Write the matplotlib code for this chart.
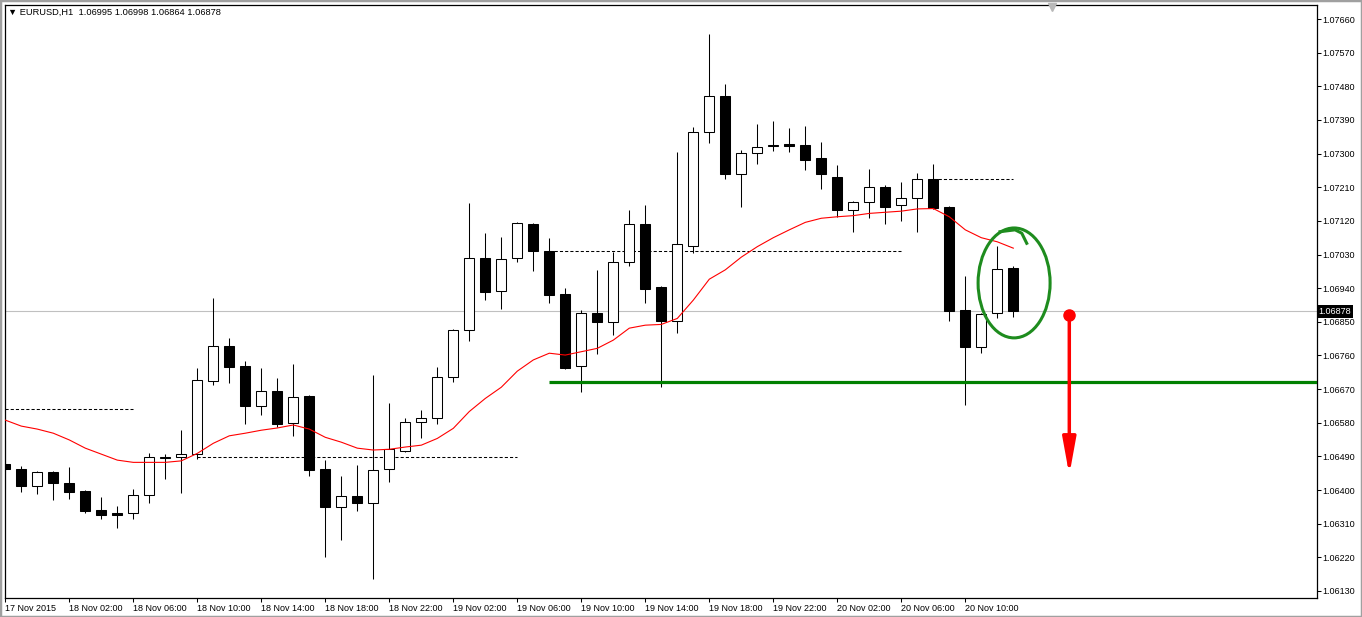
import matplotlib
matplotlib.use("Agg")
import matplotlib.pyplot as plt
import matplotlib.transforms as mtransforms
from matplotlib.patches import Ellipse, Rectangle
import numpy as np

plt.rcParams["font.family"] = ["Liberation Sans", "DejaVu Sans"]

# EURUSD H1 candles, 17 Nov 22:00 .. 20 Nov 11:00
opens = [1.06470, 1.06456, 1.06411, 1.06448, 1.06419, 1.06397, 1.06347, 1.06339, 1.06339, 1.06387,
         1.06486, 1.06488, 1.06496, 1.06692, 1.06785, 1.06732, 1.06625, 1.06665, 1.06579, 1.06652,
         1.06456, 1.06355, 1.06384, 1.06365, 1.06456, 1.06504, 1.06582, 1.06593, 1.06702, 1.06828,
         1.07021, 1.06932, 1.07021, 1.07112, 1.07039, 1.06924, 1.06732, 1.06874, 1.06850, 1.07010,
         1.07112, 1.06943, 1.06852, 1.07053, 1.07358, 1.07454, 1.07245, 1.07302, 1.07321, 1.07326,
         1.07323, 1.07288, 1.07237, 1.07149, 1.07171, 1.07211, 1.07162, 1.07181, 1.07232, 1.07157,
         1.06882, 1.06783, 1.06874, 1.06995]
highs = [1.06534, 1.06464, 1.06451, 1.06451, 1.06462, 1.06400, 1.06381, 1.06357, 1.06403, 1.06499,
         1.06496, 1.06561, 1.06726, 1.06914, 1.06807, 1.06745, 1.06726, 1.06700, 1.06737, 1.06654,
         1.06480, 1.06438, 1.06467, 1.06708, 1.06633, 1.06593, 1.06614, 1.06729, 1.06830, 1.07168,
         1.07088, 1.07077, 1.07117, 1.07114, 1.07074, 1.06940, 1.06882, 1.06989, 1.07037, 1.07149,
         1.07162, 1.06946, 1.07304, 1.07371, 1.07620, 1.07486, 1.07310, 1.07379, 1.07387, 1.07368,
         1.07374, 1.07331, 1.07269, 1.07173, 1.07259, 1.07216, 1.07224, 1.07248, 1.07272, 1.07159,
         1.06973, 1.06873, 1.07053, 1.06998]
lows = [1.06403, 1.06395, 1.06389, 1.06373, 1.06376, 1.06339, 1.06323, 1.06298, 1.06323, 1.06365,
        1.06430, 1.06392, 1.06483, 1.06681, 1.06686, 1.06577, 1.06601, 1.06569, 1.06545, 1.06438,
        1.06221, 1.06266, 1.06344, 1.06162, 1.06422, 1.06502, 1.06539, 1.06577, 1.06689, 1.06799,
        1.06908, 1.06884, 1.07010, 1.06986, 1.06900, 1.06724, 1.06662, 1.06764, 1.06815, 1.06999,
        1.06900, 1.06676, 1.06820, 1.07034, 1.07328, 1.07232, 1.07157, 1.07272, 1.07307, 1.07304,
        1.07256, 1.07205, 1.07130, 1.07090, 1.07128, 1.07112, 1.07120, 1.07090, 1.07152, 1.06852,
        1.06628, 1.06767, 1.06860, 1.06864]
closes = [1.06456, 1.06411, 1.06448, 1.06419, 1.06395, 1.06344, 1.06333, 1.06333, 1.06387, 1.06488,
          1.06489, 1.06496, 1.06694, 1.06785, 1.06729, 1.06625, 1.06665, 1.06577, 1.06649, 1.06454,
          1.06355, 1.06384, 1.06365, 1.06454, 1.06510, 1.06582, 1.06593, 1.06702, 1.06828, 1.07021,
          1.06930, 1.07018, 1.07114, 1.07039, 1.06922, 1.06727, 1.06874, 1.06850, 1.07010, 1.07112,
          1.06938, 1.06852, 1.07058, 1.07358, 1.07454, 1.07245, 1.07302, 1.07318, 1.07324, 1.07320,
          1.07283, 1.07245, 1.07149, 1.07171, 1.07211, 1.07157, 1.07181, 1.07232, 1.07154, 1.06879,
          1.06783, 1.06871, 1.06991, 1.06878]
# red moving average
ma = [1.06587, 1.06571, 1.06563, 1.06552, 1.06534, 1.06512, 1.06496, 1.06480, 1.06474, 1.06474,
      1.06474, 1.06478, 1.06498, 1.06525, 1.06545, 1.06552, 1.06560, 1.06566, 1.06574, 1.06563,
      1.06541, 1.06528, 1.06512, 1.06507, 1.06509, 1.06515, 1.06520, 1.06538, 1.06565, 1.06610,
      1.06645, 1.06675, 1.06718, 1.06748, 1.06766, 1.06761, 1.06770, 1.06779, 1.06801, 1.06833,
      1.06841, 1.06843, 1.06859, 1.06908, 1.06964, 1.06989, 1.07023, 1.07051, 1.07075, 1.07096,
      1.07116, 1.07127, 1.07131, 1.07134, 1.07140, 1.07143, 1.07146, 1.07152, 1.07153, 1.07131,
      1.07096, 1.07075, 1.07064, 1.07047]

time_labels = ["17 Nov 2015", "18 Nov 02:00", "18 Nov 06:00", "18 Nov 10:00", "18 Nov 14:00",
               "18 Nov 18:00", "18 Nov 22:00", "19 Nov 02:00", "19 Nov 06:00", "19 Nov 10:00",
               "19 Nov 14:00", "19 Nov 18:00", "19 Nov 22:00", "20 Nov 02:00", "20 Nov 06:00",
               "20 Nov 10:00"]
price_ticks = [1.06130 + 0.0009 * k for k in range(18)]

# hand-drawn dotted levels: (first bar, last bar, price)
dotted_levels = [(0, 8, 1.06617), (12, 32, 1.06488), (34, 56, 1.07039), (58, 63, 1.07231)]
support_level = (34, 1.06688)
bid = 1.06878
arrow_x, arrow_top, arrow_bottom = 66.5, 1.06868, 1.06440

o = np.array(opens)
c = np.array(closes)
x = np.arange(len(opens))

fig = plt.figure(figsize=(13.62, 6.17), dpi=100)
fig.patch.set_facecolor("white")
ax = fig.add_axes([4.5 / 1362, 19.5 / 617, 1312 / 1362, 593 / 617])

ax.axhline(bid, color="#c0c0c0", lw=0.8, zorder=1)

for x0, x1, p in dotted_levels:
    ax.hlines(p, x0, x1, colors="black", linestyles=(0, (3, 2)), lw=0.75, zorder=2)

ax.vlines(x, lows, highs, color="black", lw=0.75, zorder=3)
body_colors = ["white" if cc >= oo else "black" for oo, cc in zip(o, c)]
ax.bar(x, np.abs(c - o), bottom=np.minimum(o, c), width=0.64, color=body_colors,
       edgecolor="black", linewidth=0.75, zorder=4)

ax.plot(x, ma, color="red", lw=0.8, zorder=5)

ax.hlines(support_level[1], support_level[0], 90, color="#008000", lw=2.3, zorder=6)

# red down arrow with dot
ax.annotate("", xy=(arrow_x, arrow_bottom), xytext=(arrow_x, arrow_top),
            arrowprops=dict(arrowstyle="-|>,head_length=2.2,head_width=0.4", color="red",
                            lw=2.5, mutation_scale=10, shrinkA=0, shrinkB=0), zorder=7)
ax.plot([arrow_x], [arrow_top], "o", color="red", ms=8, zorder=8)

# hand-drawn green circle around the last two candles
ax.add_patch(Ellipse((63.05, 1.06954), width=4.5, height=0.00294, fill=False,
                     edgecolor="#1e8c1e", lw=2.2, zorder=7))
ax.plot([62.17, 63.11, 63.53, 63.84], [1.07091, 1.07096, 1.07087, 1.07060],
        color="#1e8c1e", lw=2.2, zorder=7)

ax.set_xlim(-0.05, 81.95)
ax.set_ylim(1.061125, 1.076988)

ax.yaxis.tick_right()
ax.set_yticks(price_ticks)
ax.set_yticklabels([f"{p:.5f}" for p in price_ticks])
ax.set_xticks(x[::4])
ax.set_xticklabels(time_labels)
for lbl in ax.get_xticklabels():
    lbl.set_ha("left")
ax.tick_params(axis="both", direction="out", length=3, width=0.75, labelsize=6.5, color="black")
ax.tick_params(axis="y", pad=1.5)
ax.tick_params(axis="x", pad=2)
for s in ax.spines.values():
    s.set_linewidth(0.9)
    s.set_color("black")

ax.annotate(f"{bid:.5f}", xy=(1, bid), xycoords=("axes fraction", "data"),
            xytext=(1.5, 0), textcoords="offset points", ha="left", va="center",
            color="white", fontsize=6.5, annotation_clip=False, zorder=10,
            bbox=dict(boxstyle="square,pad=0.2", fc="black", ec="none"))

# chart shift marker
trans = mtransforms.blended_transform_factory(ax.transData, ax.transAxes)
ax.plot([65.4], [0.995], marker="v", color="#b8b8b8", ms=6, transform=trans, clip_on=False, zorder=9)

fig.text(8 / 1362, 1 - 12 / 617, "▼ EURUSD,H1  1.06995 1.06998 1.06864 1.06878",
         va="center", ha="left", fontsize=6.7)

fig.patches.append(Rectangle((0, 0), 1, 1, transform=fig.transFigure, fill=False,
                             edgecolor="#a0a0a0", lw=2.5))

fig.savefig("out.png", dpi=100)
